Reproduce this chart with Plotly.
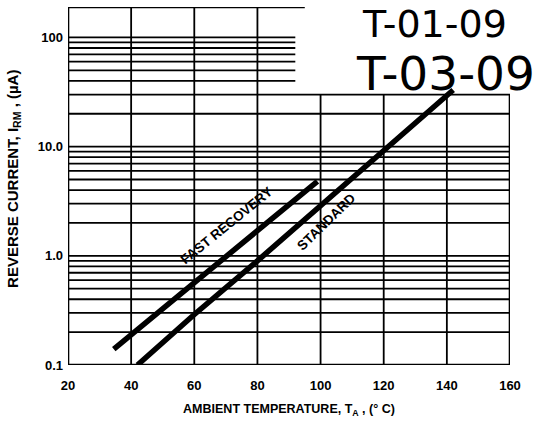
import math
import plotly.graph_objects as go

# ---- data ----
fast_temp = [34.5, 40, 60, 80, 99]
fast_current = [0.14, 0.19, 0.57, 1.7, 4.8]

std_temp = [42, 60, 80, 100, 120, 142]
std_current = [0.1, 0.29, 0.9, 2.9, 9.3, 33]

x_ticks = [20, 40, 60, 80, 100, 120, 140, 160]
y_ticks = [0.1, 1, 10, 100]
y_tick_text = ["0.1", "1.0", "10.0", "100"]

X_MIN, X_MAX = 20, 160
Y_MIN, Y_MAX = 0.1, 190
SHORT_END = 92      # where the upper grid lines stop (handwriting area)
CUT_LEVEL = 30      # right-hand grid stops at this current

FONT = "Liberation Sans, Arial, sans-serif"

fig = go.Figure()

# ---- grid (drawn as line traces) ----
gx, gy = [], []
levels = []
for d in [0.1, 1, 10, 100]:
    for m in range(1, 10):
        v = round(m * d, 6)
        if v <= 100:
            levels.append(v)
for v in levels:
    if v <= CUT_LEVEL:
        gx += [X_MIN, X_MAX, None]
    else:
        gx += [X_MIN, SHORT_END, None]
    gy += [v, v, None]
for t in x_ticks[1:-1]:
    top = Y_MAX if t <= 80 else CUT_LEVEL
    gx += [t, t, None]
    gy += [Y_MIN, top, None]
fig.add_trace(go.Scatter(x=gx, y=gy, mode="lines",
                         line=dict(color="black", width=1.8),
                         hoverinfo="skip", showlegend=False))

# ---- border ----
bx = [SHORT_END + 3, X_MIN, X_MIN, X_MAX, X_MAX]
by = [Y_MAX, Y_MAX, Y_MIN, Y_MIN, CUT_LEVEL]
fig.add_trace(go.Scatter(x=bx, y=by, mode="lines",
                         line=dict(color="black", width=2.6),
                         hoverinfo="skip", showlegend=False))

# ---- data lines ----
fig.add_trace(go.Scatter(x=fast_temp, y=fast_current, mode="lines",
                         line=dict(color="black", width=5.5),
                         name="FAST RECOVERY", showlegend=False))
fig.add_trace(go.Scatter(x=std_temp, y=std_current, mode="lines",
                         line=dict(color="black", width=5.5),
                         name="STANDARD", showlegend=False))

annos = [
    dict(x=70.3, y=math.log10(1.88), text="<b>FAST RECOVERY</b>", textangle=-39,
         font=dict(family=FONT, size=13.5, color="black"), showarrow=False),
    dict(x=102, y=math.log10(2.05), text="<b>STANDARD</b>", textangle=-44,
         font=dict(family=FONT, size=13.5, color="black"), showarrow=False),
    dict(x=136.0, y=math.log10(132), text="T-01-09",
         font=dict(family="DejaVu Sans", size=38, color="black"), showarrow=False),
    dict(x=139.6, y=math.log10(47), text="T-03-09",
         font=dict(family="DejaVu Sans", size=47, color="black"), showarrow=False),
    dict(xref="paper", yref="paper", x=-0.122, y=0.52, xanchor="center",
         yanchor="middle", textangle=-90, showarrow=False,
         text="<b>REVERSE CURRENT, I<sub>RM</sub> , (µA)</b>",
         font=dict(family=FONT, size=15, color="black")),
]

fig.update_layout(
    width=546, height=421,
    margin=dict(l=68, r=36, t=7, b=52),
    paper_bgcolor="white", plot_bgcolor="white",
    annotations=annos,
    font=dict(family=FONT, color="black"),
)
fig.update_xaxes(range=[X_MIN, X_MAX], showgrid=False, zeroline=False,
                 showline=False, ticks="", tickvals=x_ticks,
                 ticktext=[str(t) for t in x_ticks],
                 tickfont=dict(family=FONT, size=13, color="black", weight="bold"),
                 ticklabelstandoff=11,
                 title=dict(text="<b>AMBIENT TEMPERATURE, T<sub>A</sub> , (° C)</b>",
                            font=dict(family=FONT, size=12.5, color="black"),
                            standoff=12))
fig.update_yaxes(type="log", range=[math.log10(Y_MIN), math.log10(Y_MAX)],
                 showgrid=False, zeroline=False, showline=False, ticks="",
                 tickvals=y_ticks, ticktext=y_tick_text,
                 tickfont=dict(family=FONT, size=13, color="black", weight="bold"),
                 ticklabelstandoff=4)

fig.write_html("out.html", config={"displayModeBar": False},
               post_script="document.body.style.margin='0';document.body.style.padding='0';")
